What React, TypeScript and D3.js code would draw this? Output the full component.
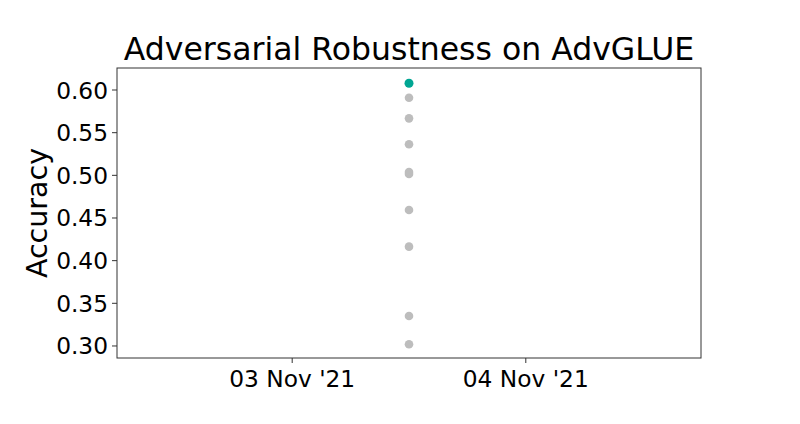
import React from "react";
import * as d3 from "d3";

const title = "Adversarial Robustness on AdvGLUE";
const yLabel = "Accuracy";
const pointDates = ["2021-11-03T12:00:00"];
const otherAccuracies = [0.591, 0.5668, 0.5364, 0.5039, 0.5016, 0.4594, 0.4164, 0.3352, 0.302];
const bestAccuracy = 0.6079;
const yTicks = [0.3, 0.35, 0.4, 0.45, 0.5, 0.55, 0.6];
const xTickDates = ["2021-11-03T00:00:00", "2021-11-04T00:00:00"];
const xDomain = ["2021-11-02T06:00:00", "2021-11-04T18:00:00"];
const yDomain = [0.2859, 0.6258];

const W = 800, H = 424;
const L = 117, R = 701, T = 68, B = 358;

export default function App() {
  const x = d3.scaleTime().domain(xDomain.map((d) => new Date(d))).range([L, R]);
  const y = d3.scaleLinear().domain(yDomain).range([B, T]);
  const fmt = d3.timeFormat("%d %b '%y");
  const px = x(new Date(pointDates[0]));
  const font = "DejaVu Sans, sans-serif";
  return (
    <svg width={W} height={H} style={{ position: "absolute", left: 0, top: 0 }} fontFamily={font}>
      <rect width={W} height={H} fill="#fff" />
      <text x={409} y={60} textAnchor="middle" fontSize={31.5} fill="#000">{title}</text>
      {yTicks.map((t) => (
        <g key={t}>
          <line x1={L - 5} x2={L} y1={y(t)} y2={y(t)} stroke="#333" strokeWidth={1} />
          <text x={L - 9} y={y(t)} dy="0.365em" textAnchor="end" fontSize={23.3} fill="#000">{t.toFixed(2)}</text>
        </g>
      ))}
      {xTickDates.map((d) => (
        <g key={d}>
          <line x1={x(new Date(d))} x2={x(new Date(d))} y1={B} y2={B + 5} stroke="#333" strokeWidth={1} />
          <text x={x(new Date(d))} y={387} textAnchor="middle" fontSize={23.3} fill="#000">{fmt(new Date(d))}</text>
        </g>
      ))}
      <text transform={`translate(${46.5},${213}) rotate(-90)`} textAnchor="middle" fontSize={28.5} fill="#000">{yLabel}</text>
      {otherAccuracies.map((v, i) => (
        <circle key={i} cx={px} cy={y(v)} r={4.3} fill="#bdbdbd" />
      ))}
      <circle cx={px} cy={y(bestAccuracy)} r={4.5} fill="#00a693" />
      <rect x={L} y={T} width={R - L} height={B - T} fill="none" stroke="#333" strokeWidth={1} />
    </svg>
  );
}
